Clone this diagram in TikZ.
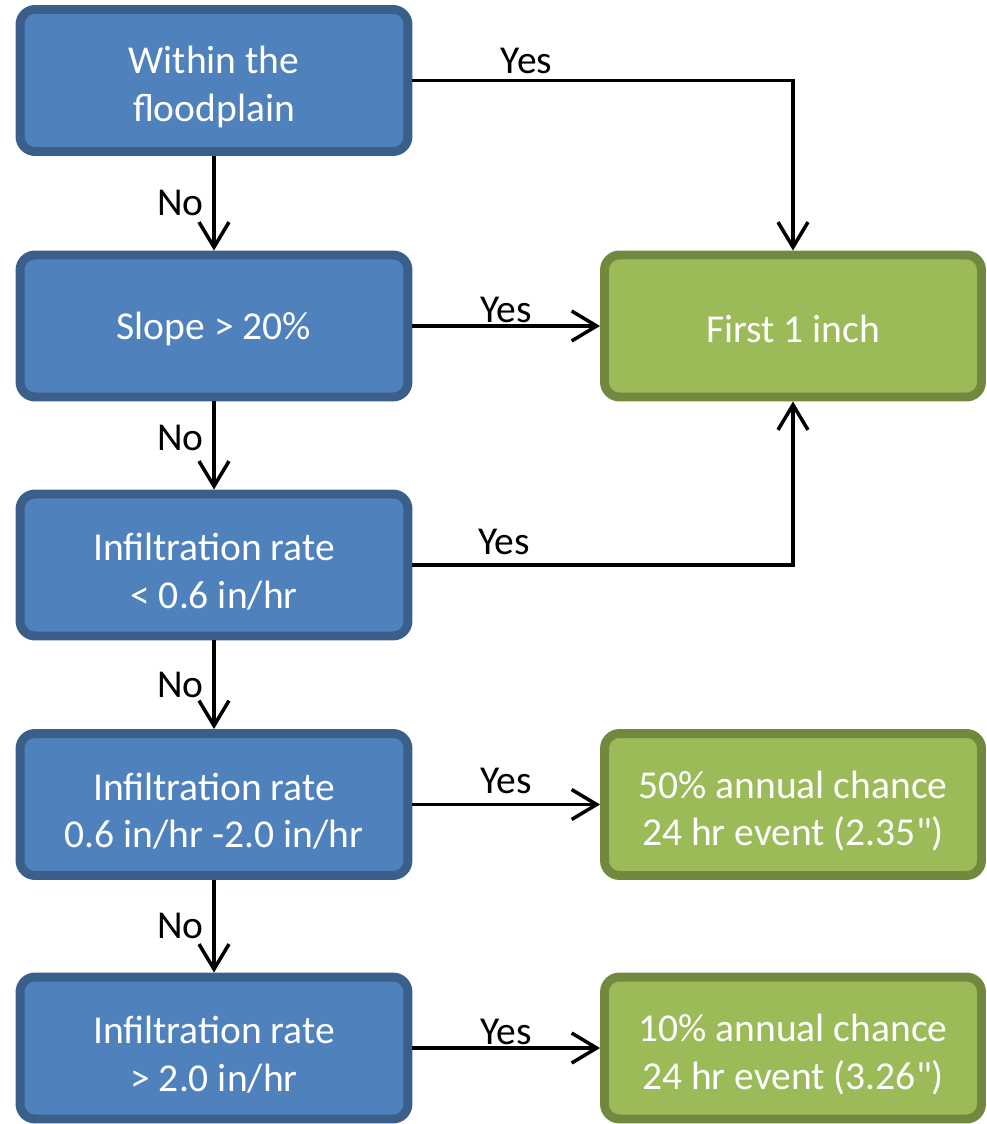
\documentclass[tikz,border=0pt]{standalone}
\usepackage{fontspec}
\setmainfont{Carlito}
\newfontfamily\plainquote{Carlito}[Ligatures=TeXOff]
\usetikzlibrary{arrows.meta}
\definecolor{boxblue}{HTML}{4F81BD}
\definecolor{boxblueline}{HTML}{3A5F8B}
\definecolor{boxgreen}{HTML}{9BBB59}
\definecolor{boxgreenline}{HTML}{71893F}
\newcommand{\inchmark}{{\plainquote"}}

\begin{document}
\begin{tikzpicture}[x=0.02cm,y=-0.02cm,
  font=\fontsize{22.5}{27}\selectfont,
  test/.style={draw=boxblueline,fill=boxblue,line width=5.1pt,rounded corners=0.3cm,
    minimum width=7.76cm,minimum height=2.84cm,text=white,align=center,
    execute at begin node=\rule{0pt}{19pt}},
  twolines/.style={execute at begin node=\rule{0pt}{50pt}},
  result/.style={test,draw=boxgreenline,fill=boxgreen,minimum width=7.54cm},
  arr/.style={line width=2pt,-{Straight Barb[length=0.5cm,width=0.6cm]}}]
\useasboundingbox (0,0) rectangle (986,1124);
% Tests
\node[test,twolines] (flood) at (214,80.5) {Within the\\floodplain};
\node[test] (slope) at (214,326) {Slope > 20\%};
\node[test,twolines] (lowrate) at (214,565) {Infiltration rate\\< 0.6 in/hr};
\node[test,twolines] (midrate) at (214,804.5) {Infiltration rate\\0.6 in/hr -2.0 in/hr};
\node[test,twolines] (highrate) at (214,1048) {Infiltration rate\\> 2.0 in/hr};
% Results
\node[result] (inch) at (793,326) {First 1 inch};
\node[result,twolines] (fifty) at (793,804.5) {50\% annual chance\\24 hr event (2.35\inchmark)};
\node[result,twolines] (ten) at (793,1048) {10\% annual chance\\24 hr event (3.26\inchmark)};
% No
\draw[arr] (flood) -- node[left,inner sep=5pt] {No} (slope);
\draw[arr] (slope) -- node[left,inner sep=5pt,yshift=4.5pt] {No} (lowrate);
\draw[arr] (lowrate) -- node[left,inner sep=5pt] {No} (midrate);
\draw[arr] (midrate) -- node[left,inner sep=5pt] {No} (highrate);
% Yes
\draw[arr] (flood.east) -| node[pos=0.15,above,inner sep=3pt] {Yes} (inch.north);
\draw[arr] (slope) -- node[above,inner sep=1pt] {Yes} (inch);
\draw[arr] (lowrate.east) -| node[pos=0.12,above,inner sep=5pt] {Yes} (inch.south);
\draw[arr] (midrate) -- node[above,inner sep=5pt] {Yes} (fifty);
\draw[arr] (highrate) -- node[above,inner sep=1pt] {Yes} (ten);
\end{tikzpicture}
\end{document}
